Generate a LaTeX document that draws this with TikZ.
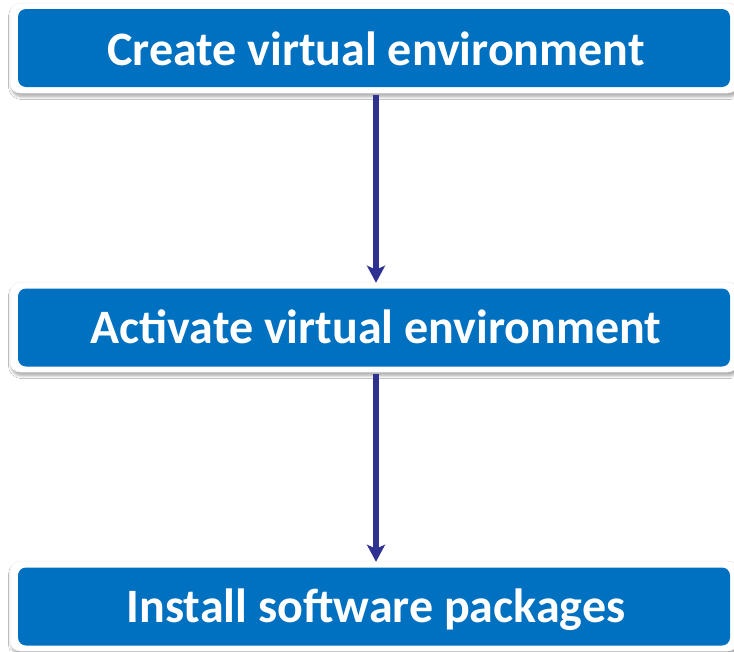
\documentclass[tikz,border=0pt]{standalone}
\usepackage{fontspec}
\setmainfont{Carlito}
\usetikzlibrary{arrows.meta,shadows.blur}
\definecolor{boxblue}{RGB}{0,112,192}
\definecolor{arrowblue}{RGB}{46,49,146}
\tikzset{
  outerbox/.style={rounded corners=10pt, fill=white, draw=black!6, line width=0.5pt,
    minimum width=728pt, minimum height=90pt, inner sep=0pt,
    blur shadow={shadow xshift=1.5pt, shadow yshift=-3.5pt, shadow blur steps=8, shadow opacity=35, shadow blur radius=3pt}},
  innerbox/.style={rounded corners=8pt, fill=boxblue, minimum width=712pt, minimum height=78pt, inner sep=0pt},
  boxtext/.style={text=white, font=\fontsize{48}{50}\selectfont\bfseries, anchor=base, inner sep=0pt},
  flowarrow/.style={draw=arrowblue, line width=6pt, -{Stealth[length=17pt,width=18pt,inset=4pt]}}
}
\begin{document}
\begin{tikzpicture}[x=1pt,y=-1pt]
\useasboundingbox[fill=white] (0,0) rectangle (734,651);
% boxes
\node[outerbox] (o1) at (374,48) {};
\node[innerbox] (b1) at (374,48) {};
\node[boxtext] (t1) at (376,65) {Create virtual environment};

\node[outerbox] (o2) at (374,327) {};
\node[innerbox] (b2) at (374,327.5) {};
\node[boxtext] (t2) at (376,343) {Activate virtual environment};

\node[outerbox] (o3) at (374,606) {};
\node[innerbox] (b3) at (374,606.5) {};
\node[boxtext] (t3) at (376,622) {Install software packages};

% arrows
\draw[flowarrow, shorten <=2pt, shorten >=-1pt] ([xshift=2pt]o1.south) -- ([xshift=2pt]o2.north);
\draw[flowarrow, shorten <=2pt, shorten >=-1pt] ([xshift=2pt]o2.south) -- ([xshift=2pt]o3.north);
\end{tikzpicture}
\end{document}
